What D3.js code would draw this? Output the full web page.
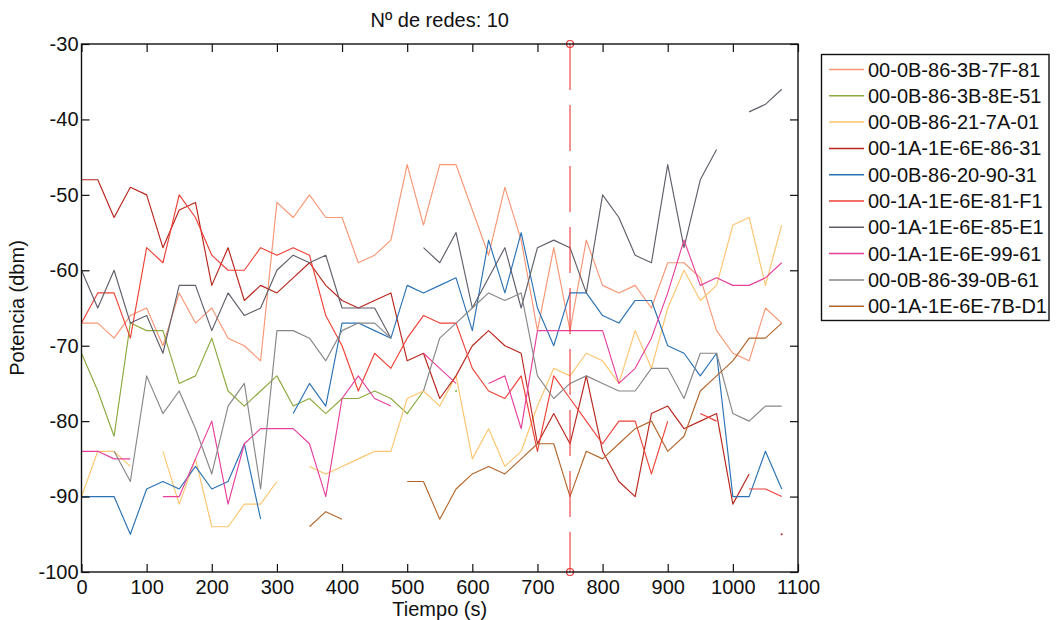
<!DOCTYPE html>
<html><head><meta charset="utf-8">
<script src="https://cdn.jsdelivr.net/npm/d3@7"></script>
<style>
body{margin:0;background:#fff}
svg text{font-family:"Liberation Sans",Arial,Helvetica,sans-serif;fill:#111}
</style>
</head><body>
<svg id="chart" width="1061" height="620"></svg>
<script>
// ---------------- data ----------------
const titleText = "Nº de redes: 10";
const xLabel = "Tiempo (s)";
const yLabel = "Potencia (dbm)";
const times = [0,25,50,75,100,125,150,175,200,225,250,275,300,325,350,375,400,425,450,475,500,525,550,575,600,625,650,675,700,725,750,775,800,825,850,875,900,925,950,975,1000,1025,1050,1075];
const xTicks = [0,100,200,300,400,500,600,700,800,900,1000,1100];
const yTicks = [-100,-90,-80,-70,-60,-50,-40,-30];
const xTickLabels = ["0","100","200","300","400","500","600","700","800","900","1000","1100"];
const yTickLabels = ["-100","-90","-80","-70","-60","-50","-40","-30"];
const xDomain = [0,1100];
const yDomain = [-100,-30];
const markerTime = 750;

const seriesNames = ["00-0B-86-3B-7F-81","00-0B-86-3B-8E-51","00-0B-86-21-7A-01","00-1A-1E-6E-86-31","00-0B-86-20-90-31","00-1A-1E-6E-81-F1","00-1A-1E-6E-85-E1","00-1A-1E-6E-99-61","00-0B-86-39-0B-61","00-1A-1E-6E-7B-D1"];
const seriesColors = ["#f99674","#8caa3e","#fdc56f","#b8261d","#2a72b4","#ee4136","#5f5f6b","#e6409c","#878787","#b4672d"];

const s_3B7F81 = [-67,-67,-69,-66,-65,-70,-63,-67,-65,-69,-70,-72,-51,-53,-50,-53,-53,-59,-58,-56,-46,-54,-46,-46,-52,-58,-49,-56,-68,-57,-68,-56,-62,-63,-62,-65,-59,-59,-61,-68,-71,-72,-65,-67];
const s_3B8E51 = [-71,-76,-82,-67,-68,-68,-75,-74,-69,-76,-78,-76,-74,-78,-77,-79,-77,-77,-76,-77,-79,-76,null,-76,null,null,null,null,null,null,null,null,null,null,null,null,null,null,null,null,null,null,null,null];
const s_217A01 = [-90,-84,-84,-86,null,-84,-91,-85,-94,-94,-91,-91,-88,null,-86,-87,-86,-85,-84,-84,-77,-76,-78,-74,-85,-81,-86,-84,-78,-73,-74,-71,-72,-75,-68,-73,-65,-60,-64,-62,-54,-53,-62,-54];
const s_6E8631 = [-48,-48,-53,-49,-50,-57,-52,-51,-62,-57,-64,-62,-63,-61,-59,-62,-64,-65,-64,-63,-72,-71,-77,-74,-70,-68,-70,-71,-83,-79,-83,-74,-84,-88,-90,-79,-78,-81,-80,-79,-91,-87,null,-95];
const s_209031 = [-90,-90,-90,-95,-89,-88,-89,-86,-89,-88,-83,-93,null,-79,-75,-78,-67,-67,-68,-69,-62,-63,-62,-61,-68,-56,-63,-55,-65,-70,-63,-63,-66,-67,-64,-64,-70,-71,-74,-71,-90,-90,-84,-89];
const s_6E81F1 = [-67,-63,-63,-69,-57,-59,-50,-53,-58,-60,-60,-57,-58,-57,-58,-66,-70,-76,-71,-73,-69,-66,-67,-67,-73,-76,-77,-74,-84,-74,-77,-80,-83,-80,-80,-87,-80,null,-79,-80,null,-89,-89,-90];
const s_6E85E1 = [-60,-65,-60,-67,-66,-71,-62,-62,-68,-63,-66,-65,-60,-58,-59,-58,-65,-65,-65,-69,null,-57,-59,-55,-65,-61,-57,-65,-57,-56,-57,-63,-50,-53,-58,-59,-46,-57,-48,-44,null,-39,-38,-36];
const s_6E9961 = [-84,-84,-85,-85,null,-90,-90,-85,-80,-91,-83,-81,-81,-81,-83,-90,-77,-74,-77,-78,null,-71,-73,-75,null,-75,-74,-81,-68,-68,-68,-68,-68,-75,-73,-69,-63,-56,-62,-61,-62,-62,-61,-59];
const s_390B61 = [null,null,-84,-88,-74,-79,-76,-81,-87,-78,-75,-89,-68,-68,-69,-72,-68,-67,-67,-69,null,-76,-69,-67,-65,-63,-64,-63,-74,-77,-75,-74,-75,-76,-76,-73,-73,-77,-71,-71,-79,-80,-78,-78];
const s_6E7BD1 = [null,null,null,null,null,null,null,null,null,null,null,null,null,null,-94,-92,-93,null,null,null,-88,-88,-93,-89,-87,-86,-87,-85,-83,-83,-90,-84,-85,-83,-81,-80,-84,-82,-76,-74,-72,-69,-69,-67];

const seriesValues = [s_3B7F81,s_3B8E51,s_217A01,s_6E8631,s_209031,s_6E81F1,s_6E85E1,s_6E9961,s_390B61,s_6E7BD1];

// ---------------- drawing ----------------
const svg = d3.select("#chart");
const L = 81.5, R = 798, T = 44, B = 572;
const x = d3.scaleLinear().domain(xDomain).range([L, R]);
const y = d3.scaleLinear().domain(yDomain).range([B, T]);

const plot = svg.append("g");
const line = d3.line()
  .defined(d => d.v !== null)
  .x(d => x(d.t)).y(d => y(d.v));

seriesValues.forEach((vals, i) => {
  const pts = times.map((t, k) => ({t: t, v: vals[k]}));
  plot.append("path").datum(pts)
    .attr("d", line)
    .attr("fill", "none")
    .attr("stroke", seriesColors[i])
    .attr("stroke-width", 1.15)
    .attr("stroke-linejoin", "round");
  // isolated points (single samples)
  const iso = pts.filter((p, k) => p.v !== null &&
      (k === 0 || pts[k-1].v === null) && (k === pts.length-1 || pts[k+1].v === null));
  plot.selectAll(null).data(iso).enter().append("circle")
    .attr("cx", d => x(d.t)).attr("cy", d => y(d.v)).attr("r", 1)
    .attr("fill", seriesColors[i]);
});

// marker line
svg.append("line")
  .attr("x1", x(markerTime)).attr("x2", x(markerTime))
  .attr("y1", y(yDomain[1])).attr("y2", y(yDomain[0]))
  .attr("stroke", "#e8383a").attr("stroke-width", 1.1)
  .attr("stroke-dasharray", "46,15");
[yDomain[1], yDomain[0]].forEach(v => {
  svg.append("circle").attr("cx", x(markerTime)).attr("cy", y(v)).attr("r", 3.5)
    .attr("fill", "none").attr("stroke", "#e8383a").attr("stroke-width", 1.2);
});

// axes
const xFmt = d => xTickLabels[xTicks.indexOf(d)];
const yFmt = d => yTickLabels[yTicks.indexOf(d)];
const axB = svg.append("g").attr("transform", `translate(0,${B})`)
  .call(d3.axisBottom(x).tickValues(xTicks).tickSizeInner(-8).tickSizeOuter(0).tickPadding(8).tickFormat(xFmt));
const axT = svg.append("g").attr("transform", `translate(0,${T})`)
  .call(d3.axisTop(x).tickValues(xTicks).tickSizeInner(-8).tickSizeOuter(0).tickFormat(""));
const axL = svg.append("g").attr("transform", `translate(${L},0)`)
  .call(d3.axisLeft(y).tickValues(yTicks).tickSizeInner(-8).tickSizeOuter(0).tickPadding(3).tickFormat(yFmt));
const axR = svg.append("g").attr("transform", `translate(${R},0)`)
  .call(d3.axisRight(y).tickValues(yTicks).tickSizeInner(-8).tickSizeOuter(0).tickFormat(""));
[axB, axT, axL, axR].forEach(a => {
  a.select(".domain").remove();
  a.selectAll(".tick line").attr("stroke", "#111").attr("stroke-width", 1.2);
  a.selectAll("text").attr("font-size", 20).style("font-family", '"Liberation Sans",Arial,sans-serif').attr("fill", "#111");
});
svg.append("rect").attr("x", L).attr("y", T).attr("width", R - L).attr("height", B - T)
  .attr("fill", "none").attr("stroke", "#111").attr("stroke-width", 1.4);

// labels
svg.append("text").attr("x", (L + R) / 2).attr("y", 27).attr("text-anchor", "middle")
  .attr("font-size", 20).text(titleText);
svg.append("text").attr("x", (L + R) / 2).attr("y", 616).attr("text-anchor", "middle")
  .attr("font-size", 20).text(xLabel);
svg.append("text").attr("transform", `translate(24,${(T + B) / 2}) rotate(-90)`)
  .attr("text-anchor", "middle").attr("font-size", 20).text(yLabel);

// legend
const lg = svg.append("g");
lg.append("rect").attr("x", 821.5).attr("y", 54.5).attr("width", 227.5).attr("height", 266)
  .attr("fill", "#fff").attr("stroke", "#111").attr("stroke-width", 1.4);
seriesNames.forEach((name, i) => {
  const yy = 69.5 + i * 26.3;
  lg.append("line").attr("x1", 829).attr("x2", 864).attr("y1", yy).attr("y2", yy)
    .attr("stroke", seriesColors[i]).attr("stroke-width", 1.5);
  lg.append("text").attr("x", 868).attr("y", yy).attr("dy", "0.35em")
    .attr("font-size", 20).text(name);
});
</script>
</body></html>
